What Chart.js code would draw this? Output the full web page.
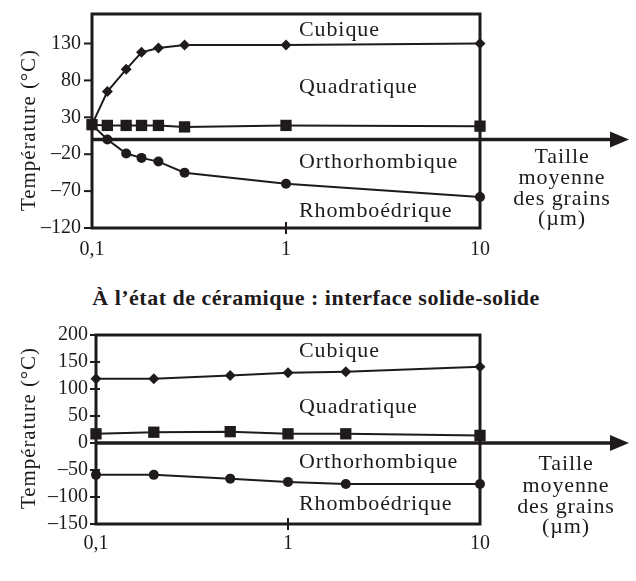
<!DOCTYPE html>
<html>
<head>
<meta charset="UTF-8">
<script src="https://cdn.jsdelivr.net/npm/chart.js"></script>
<style>
  body { margin: 0; background: white; }
  #wrap { position: relative; width: 636px; height: 581px; }
  #top { position: absolute; left: 0; top: 0; }
  #bottom { position: absolute; left: 0; top: 320px; }
  #title {
    position: absolute; left: 0; width: 632px; top: 285px;
    text-align: center; font: bold 22px "Liberation Serif", serif;
    letter-spacing: 0.5px; color: #1f1b1c;
  }
</style>
</head>
<body>
<div id="wrap">
  <canvas id="top" width="636" height="270"></canvas>
  <div id="title">À l’état de céramique : interface solide-solide</div>
  <canvas id="bottom" width="636" height="261"></canvas>
</div>
<script>
// grain size (µm) and transition temperatures (°C)
const topSizes = [0.1, 0.12, 0.15, 0.18, 0.22, 0.3, 1, 10];
const topCubic = [20, 65, 95, 118, 124, 128, 128, 130];
const topQuad = [20, 19, 19, 19, 19, 17, 19, 18];
const topRhombo = [20, 0, -19, -25, -30, -45, -60, -78];

const botSizes = [0.1, 0.2, 0.5, 1, 2, 10];
const botCubic = [119, 119, 125, 130, 132, 141];
const botQuad = [17, 20, 21, 17, 17, 14];
const botRhombo = [-59, -59, -66, -72, -76, -76];

const xTicks = [0.1, 1, 10];
const topYTicks = [-120, -70, -20, 30, 80, 130];
const botYTicks = [-150, -100, -50, 0, 50, 100, 150, 200];

const phases = ['Cubique', 'Quadratique', 'Orthorhombique', 'Rhomboédrique'];
const xTitle = ['Taille', 'moyenne', 'des grains', '(µm)'];
const yTitle = 'Température (°C)';

const INK = '#1f1b1c';
const SERIF = '"Liberation Serif", serif';

function pts(xs, ys) {
  return xs.map((x, i) => ({ x, y: ys[i] }));
}

function series(xs, ys, style, radius) {
  return {
    data: pts(xs, ys),
    borderColor: INK,
    borderWidth: 2,
    backgroundColor: INK,
    pointBackgroundColor: INK,
    pointBorderColor: INK,
    pointBorderWidth: 0,
    pointStyle: style,
    pointRadius: radius,
    tension: 0,
    clip: false
  };
}

function line(ctx, x1, y1, x2, y2) {
  ctx.beginPath();
  ctx.moveTo(x1, y1);
  ctx.lineTo(x2, y2);
  ctx.stroke();
}

// box, tick marks, arrow and all free text
const decor = {
  id: 'decor',
  afterDraw(chart, args, o) {
    const { ctx, chartArea: a, scales: { x, y } } = chart;
    ctx.save();
    ctx.strokeStyle = INK;
    ctx.fillStyle = INK;
    ctx.lineWidth = 3;
    ctx.strokeRect(a.left, a.top, a.right - a.left, a.bottom - a.top);

    ctx.lineWidth = 2;
    y.ticks.forEach(t => {
      const py = y.getPixelForValue(t.value);
      line(ctx, a.left - o.tickOut, py, a.left + o.tickIn, py);
    });
    const p1 = x.getPixelForValue(1);
    line(ctx, p1, a.bottom - 6, p1, a.bottom + 6);

    // horizontal arrow at 0 °C
    const y0 = y.getPixelForValue(0);
    ctx.lineWidth = 3.5;
    line(ctx, a.left, y0, 614, y0);
    ctx.beginPath();
    ctx.moveTo(629, y0);
    ctx.lineTo(610, y0 - 8);
    ctx.lineTo(610, y0 + 8);
    ctx.closePath();
    ctx.fill();

    ctx.font = '22px ' + SERIF;
    ctx.letterSpacing = '0.9px';
    ctx.textBaseline = 'alphabetic';
    ctx.textAlign = 'left';
    phases.forEach((p, i) => ctx.fillText(p, 299, o.phaseY[i]));
    ctx.textAlign = 'center';
    xTitle.forEach((t, i) => ctx.fillText(t, o.xTitleX, o.xTitleY[i]));

    ctx.translate(29, o.yTitleY);
    ctx.rotate(-Math.PI / 2);
    ctx.font = '21px ' + SERIF;
    ctx.textBaseline = 'middle';
    ctx.letterSpacing = '0.9px';
    ctx.fillText(yTitle, 0, 0);
    ctx.restore();
  }
};

function makeChart(id, cfg) {
  return new Chart(document.getElementById(id), {
    type: 'line',
    data: {
      datasets: [
        series(cfg.sizes, cfg.cubic, 'rectRot', 5.5),
        series(cfg.sizes, cfg.quad, 'rect', 8),
        series(cfg.sizes, cfg.rhombo, 'circle', 5)
      ]
    },
    options: {
      responsive: false,
      animation: false,
      layout: { padding: { top: cfg.padTop, right: 636 - 480, left: 0, bottom: 0 } },
      plugins: { legend: { display: false }, tooltip: { enabled: false }, decor: cfg.decor },
      scales: {
        x: {
          type: 'logarithmic',
          min: 0.1,
          max: 10,
          afterBuildTicks: s => { s.ticks = xTicks.map(v => ({ value: v })); },
          afterFit: s => { s.height = cfg.xHeight; s.paddingLeft = 0; s.paddingRight = 0; },
          grid: { display: false, drawTicks: false },
          border: { display: false },
          ticks: {
            padding: cfg.xPad,
            color: INK,
            font: { family: SERIF, size: 20 },
            maxRotation: 0,
            autoSkip: false,
            callback: v => String(v).replace('.', ',')
          }
        },
        y: {
          min: cfg.yMin,
          max: cfg.yMax,
          afterBuildTicks: s => { s.ticks = cfg.yTicks.map(v => ({ value: v })); },
          afterFit: s => { s.width = cfg.yWidth; s.paddingTop = 0; s.paddingBottom = 0; },
          grid: { display: false, drawTicks: false },
          border: { display: false },
          ticks: {
            padding: cfg.yPad,
            color: INK,
            autoSkip: false,
            font: { family: SERIF, size: 20 },
            callback: v => v < 0 ? '–' + Math.abs(v) : String(v)
          }
        }
      }
    },
    plugins: [decor]
  });
}

makeChart('top', {
  sizes: topSizes, cubic: topCubic, quad: topQuad, rhombo: topRhombo,
  yMin: -120, yMax: 170, yTicks: topYTicks,
  padTop: 14, xHeight: 42, yWidth: 92, xPad: 10, yPad: 11,
  decor: {
    tickOut: 8, tickIn: 0,
    phaseY: [36, 93, 168, 217],
    xTitleX: 562, xTitleY: [163, 184, 205, 225],
    yTitleY: 130
  }
});

makeChart('bottom', {
  sizes: botSizes, cubic: botCubic, quad: botQuad, rhombo: botRhombo,
  yMin: -150, yMax: 200, yTicks: botYTicks,
  padTop: 15, xHeight: 57, yWidth: 96, xPad: 8, yPad: 8,
  decor: {
    tickOut: 6, tickIn: 4,
    phaseY: [37, 93, 148, 190],
    xTitleX: 566, xTitleY: [150, 172, 193, 213],
    yTitleY: 108
  }
});
</script>
</body>
</html>
